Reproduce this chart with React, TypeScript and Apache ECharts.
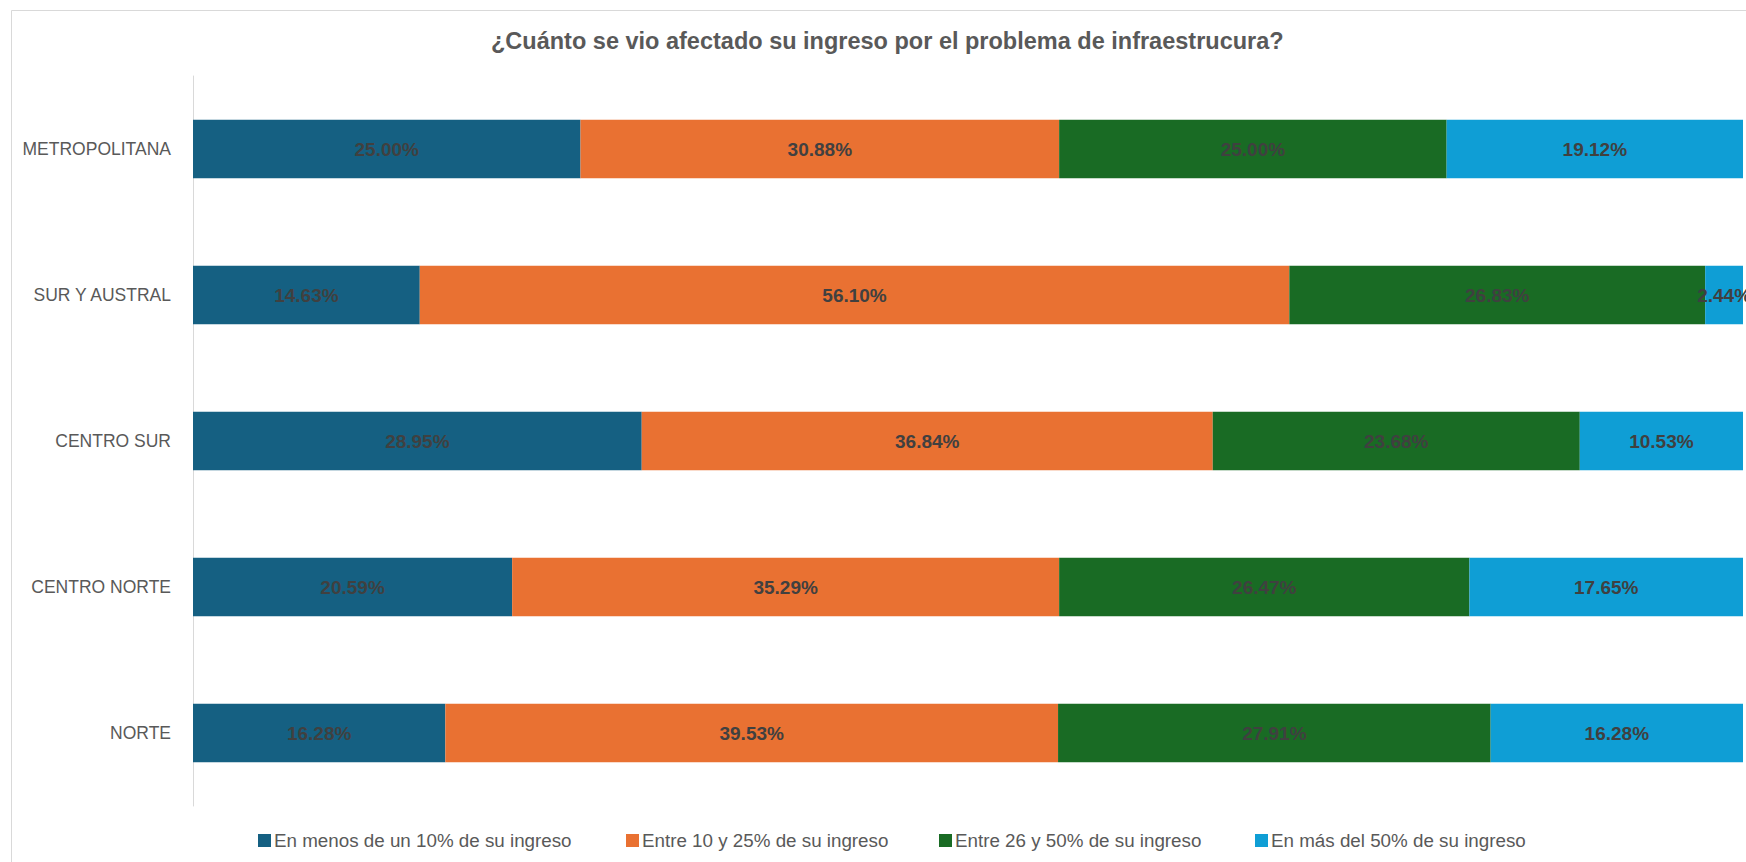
import React, { useEffect, useRef } from "react";
import * as echarts from "echarts";

const categories = ["METROPOLITANA", "SUR Y AUSTRAL", "CENTRO SUR", "CENTRO NORTE", "NORTE"];
const seriesNames = [
  "En menos de un 10% de su ingreso",
  "Entre 10 y 25% de su ingreso",
  "Entre 26 y 50% de su ingreso",
  "En más del 50% de su ingreso",
];
const menos10 = [25.0, 14.63, 28.95, 20.59, 16.28];
const entre10y25 = [30.88, 56.1, 36.84, 35.29, 39.53];
const entre26y50 = [25.0, 26.83, 23.68, 26.47, 27.91];
const mas50 = [19.12, 2.44, 10.53, 17.65, 16.28];
const colors = ["#156082", "#E97132", "#196B24", "#0F9ED5"];
const title = "¿Cuánto se vio afectado su ingreso por el problema de infraestrucura?";

const FONT = "'Liberation Sans', Arial, sans-serif";

export default function App() {
  const ref = useRef<HTMLDivElement>(null);
  useEffect(() => {
    document.body.style.margin = "0";
    if (!ref.current) return;
    const chart = echarts.init(ref.current, undefined, { renderer: "svg" });
    const values = [menos10, entre10y25, entre26y50, mas50];
    const legendLefts = [253, 621, 934, 1250];
    chart.setOption({
      animation: false,
      backgroundColor: "#ffffff",
      color: colors,
      title: {
        text: title,
        left: 486,
        top: 24,
        textStyle: { fontFamily: FONT, fontSize: 23.5, fontWeight: "bold", color: "#595959" },
      },
      legend: seriesNames.map((n, i) => ({
        data: [n],
        left: legendLefts[i],
        top: 826,
        itemWidth: 13,
        itemHeight: 13,
        icon: "rect",
        itemGap: 4,
        textStyle: { fontFamily: FONT, fontSize: 18.8, color: "#595959", padding: [0, 0, 0, -2] },
      })),
      grid: { left: 193, right: 3, top: 76, bottom: 56, containLabel: false },
      xAxis: { type: "value", min: 0, max: 100, show: false },
      yAxis: {
        type: "category",
        data: categories,
        inverse: true,
        axisLine: { show: true, lineStyle: { color: "#d9d9d9", width: 1 } },
        axisTick: { show: false },
        axisLabel: { fontFamily: FONT, fontSize: 17.5, color: "#595959", margin: 22 },
      },
      graphic: [
        { type: "line", shape: { x1: 11.5, y1: 10.5, x2: 11.5, y2: 862 }, style: { stroke: "#d9d9d9", lineWidth: 1 } },
        { type: "line", shape: { x1: 11.5, y1: 10.5, x2: 1746, y2: 10.5 }, style: { stroke: "#d9d9d9", lineWidth: 1 } },
      ],
      series: seriesNames.map((n, i) => ({
        name: n,
        type: "bar",
        stack: "total",
        barCategoryGap: "60%",
        data: values[i],
        itemStyle: { color: colors[i] },
        label: {
          show: true,
          position: "inside",
          formatter: (p: any) => p.value.toFixed(2) + "%",
          fontFamily: FONT,
          fontSize: 19,
          fontWeight: "bold",
          color: "#404040",
        },
      })),
    });
    return () => chart.dispose();
  }, []);
  return <div ref={ref} style={{ width: 1746, height: 862 }} />;
}
